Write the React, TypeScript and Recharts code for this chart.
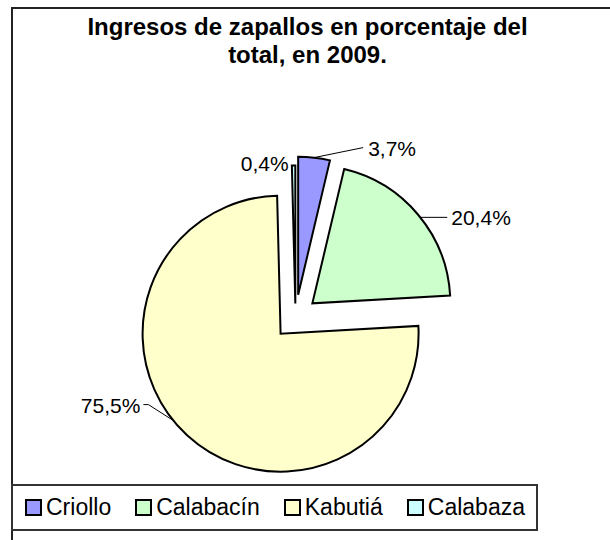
import React from 'react';
import { PieChart, Pie, Cell } from 'recharts';

const categories = ['Criollo', 'Calabacín', 'Kabutiá', 'Calabaza'];
const shares = [3.7, 20.4, 75.5, 0.4];
const sliceLabels = ['3,7%', '20,4%', '75,5%', '0,4%'];
const colors = ['#9999FF', '#CCFFCC', '#FFFFCC', '#CCFFFF'];

const data = categories.map((name, i) => ({ name, value: shares[i] }));

const FONT = '"Liberation Sans", Arial, sans-serif';
const RAD = Math.PI / 180;

// pie geometry (px inside the 610x540 chart)
const CX = 295.5;
const CY = 317.5;
const R = 138;
const explode = [23, 22, 22, 14];

// leader line + text, relative to where the leader leaves the slice
const labelLayout = [
  { shift: 0, line: [[49, -10]], text: [54, -9], anchor: 'start' },
  { shift: -1.4, line: [[27, 0]], text: [31, 0], anchor: 'start' },
  { shift: -8.3, line: [[-25, -16], [-30, -16]], text: [-33, -15], anchor: 'end' },
  { shift: 0, line: [], text: [-5, -2], anchor: 'end' },
];

const total = shares.reduce((a, b) => a + b, 0);

// mid angle of each slice, degrees clockwise from 12 o'clock
const midAngles = shares.map((v, i) => {
  const before = shares.slice(0, i).reduce((a, b) => a + b, 0);
  return (360 * (before + v / 2)) / total;
});

const makeLabel = (slice: number) => (props: any) => {
  if (props.index !== slice) return null;
  const lay = labelLayout[slice];
  const a = (props.midAngle + lay.shift) * RAD;
  const sx = props.cx + props.outerRadius * Math.cos(a);
  const sy = props.cy - props.outerRadius * Math.sin(a);
  const pts = [[sx, sy], ...lay.line.map(([dx, dy]) => [sx + dx, sy + dy])];
  return (
    <g>
      {pts.length > 1 && (
        <polyline
          points={pts.map((p) => p.join(',')).join(' ')}
          fill="none"
          stroke="#000"
          strokeWidth={1}
        />
      )}
      <text
        x={sx + lay.text[0]}
        y={sy + lay.text[1]}
        textAnchor={lay.anchor as any}
        dominantBaseline="central"
        fontFamily={FONT}
        fontSize={21}
        fill="#000"
      >
        {sliceLabels[slice]}
      </text>
    </g>
  );
};

const LegendBox = () => (
  <div
    style={{
      position: 'absolute',
      left: 11,
      top: 484,
      width: 527,
      height: 47,
      boxSizing: 'border-box',
      border: '2px solid #333',
      display: 'flex',
      alignItems: 'center',
      paddingLeft: 12,
      fontFamily: FONT,
      fontSize: 23,
      color: '#000',
      background: '#fff',
    }}
  >
    {categories.map((c, i) => (
      <div key={c} style={{ display: 'flex', alignItems: 'center', marginRight: 24 }}>
        <span
          style={{
            display: 'inline-block',
            width: 17,
            height: 17,
            boxSizing: 'border-box',
            border: '2px solid #000',
            background: colors[i],
            marginRight: 4,
          }}
        />
        <span>{c}</span>
      </div>
    ))}
  </div>
);

export default function App() {
  return (
    <div
      style={{
        position: 'absolute',
        left: 0,
        top: 0,
        width: 610,
        height: 540,
        overflow: 'hidden',
        background: '#fff',
      }}
    >
      <div
        style={{
          position: 'absolute',
          left: 11,
          top: 7,
          width: 700,
          height: 600,
          border: '2px solid #222',
        }}
      />
      <div
        style={{
          position: 'absolute',
          left: 0,
          top: 13,
          width: 615,
          textAlign: 'center',
          fontFamily: FONT,
          fontWeight: 'bold',
          fontSize: 24,
          lineHeight: '28px',
          color: '#000',
        }}
      >
        Ingresos de zapallos en porcentaje del
        <br />
        total, en 2009.
      </div>
      <div style={{ position: 'absolute', left: 0, top: 0 }}>
        <PieChart width={610} height={540} margin={{ top: 0, right: 0, bottom: 0, left: 0 }}>
          {shares.map((_, slice) => {
            const m = midAngles[slice] * RAD;
            const d = explode[slice];
            return (
              <Pie
                key={slice}
                data={data}
                dataKey="value"
                nameKey="name"
                cx={CX + d * Math.sin(m)}
                cy={CY - d * Math.cos(m)}
                outerRadius={R}
                startAngle={90}
                endAngle={-270}
                isAnimationActive={false}
                label={makeLabel(slice)}
                labelLine={false}
              >
                {data.map((entry, i) => (
                  <Cell
                    key={entry.name}
                    fill={i === slice ? colors[i] : 'none'}
                    stroke={i === slice ? '#000' : 'none'}
                    strokeWidth={2}
                  />
                ))}
              </Pie>
            );
          })}
        </PieChart>
      </div>
      <LegendBox />
    </div>
  );
}
